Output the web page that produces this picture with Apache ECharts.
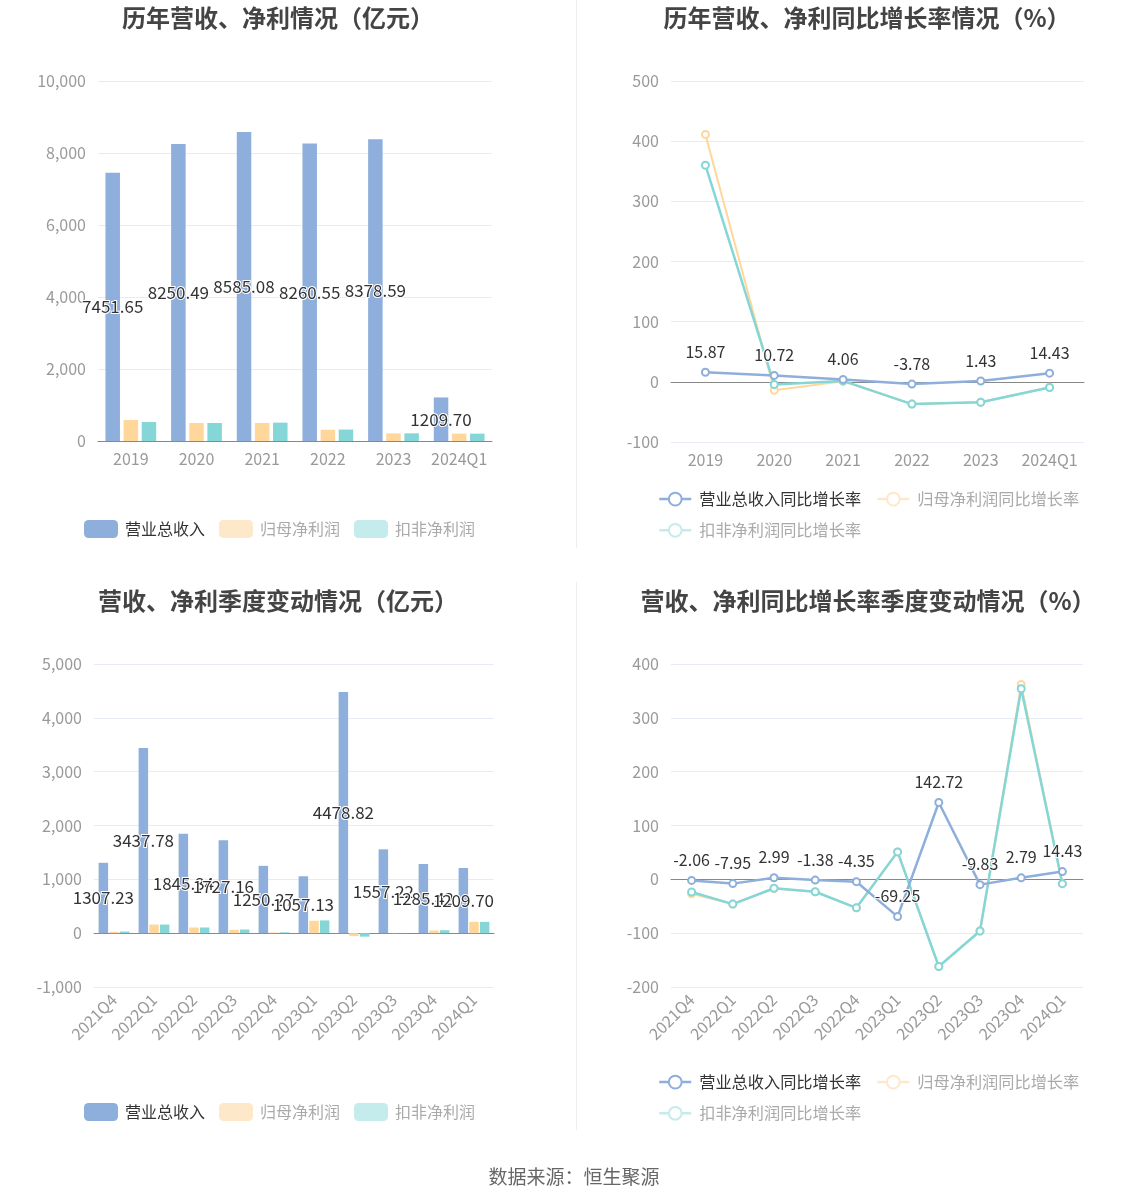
<!DOCTYPE html>
<html>
<head>
<meta charset="utf-8">
<script src="https://cdn.jsdelivr.net/npm/echarts@6/dist/echarts.min.js"></script>
<style>
html,body{margin:0;padding:0;background:#fff;}
#main{width:1148px;height:1202px;}
</style>
</head>
<body>
<div id="main"></div>
<script>
// ---- data ----
var years = ['2019', '2020', '2021', '2022', '2023', '2024Q1'];
var revAnnual = [7451.65, 8250.49, 8585.08, 8260.55, 8378.59, 1209.70];
var npAnnual = [582, 500, 500, 314, 213, 204];
var npDedAnnual = [527, 500, 510, 318, 213, 204];
var revGrowth = [15.87, 10.72, 4.06, -3.78, 1.43, 14.43];
var npGrowth = [411, -14, 1, -37, -34, -9];
var npDedGrowth = [360, -4.5, 1.5, -37, -34, -9.4];

var quarters = ['2021Q4', '2022Q1', '2022Q2', '2022Q3', '2022Q4', '2023Q1', '2023Q2', '2023Q3', '2023Q4', '2024Q1'];
var revQ = [1307.23, 3437.78, 1845.34, 1727.16, 1250.27, 1057.13, 4478.82, 1557.22, 1285.42, 1209.70];
var npQ = [25, 160, 105, 62, 12, 230, -55, 3, 50, 210];
var npDedQ = [30, 160, 105, 68, 15, 237, -65, 2, 55, 210];
var revGrowthQ = [-2.06, -7.95, 2.99, -1.38, -4.35, -69.25, 142.72, -9.83, 2.79, 14.43];
var npGrowthQ = [-27, -46, -17, -23, -53, 51, -162, -96, 362, -8];
var npDedGrowthQ = [-23.5, -46, -16.6, -23, -53, 51, -162, -96, 354, -8];

var barNames = ['营业总收入', '归母净利润', '扣非净利润'];
var lineNames = ['营业总收入同比增长率', '归母净利润同比增长率', '扣非净利润同比增长率'];
var titles = ['历年营收、净利情况（亿元）', '历年营收、净利同比增长率情况（%）', '营收、净利季度变动情况（亿元）', '营收、净利同比增长率季度变动情况（%）'];
var sourceText = '数据来源：恒生聚源';

// ---- styles ----
var FONT = '"Noto Sans CJK SC", "Noto Sans", sans-serif';
var C_BLUE = '#8eaedc', C_ORANGE = '#ffd79b', C_CYAN = '#85d6d6';
var C_ORANGE_PALE = '#fde9c9', C_CYAN_PALE = '#c4ecec';
var AXIS_LABEL = {color: '#999', fontSize: 16, fontFamily: FONT};
var SPLIT = {lineStyle: {color: '#e6ebf5'}};
var fmt = function (p) { return Number(p.value).toFixed(2); };
var labelStyle = {color: '#333', fontSize: 17, fontFamily: FONT, textBorderColor: '#fff', textBorderWidth: 2};

var grids = [
  {left: 98, width: 394, top: 81, height: 360},
  {left: 671, width: 413, top: 81, height: 361},
  {left: 94, width: 400, top: 664, height: 323},
  {left: 671, width: 412, top: 664, height: 323}
];

function titleAt(i, left, top) {
  return {text: titles[i], left: left, top: top, textAlign: 'center',
    textStyle: {fontSize: 24, fontWeight: 'bold', color: '#444', fontFamily: FONT}};
}

function barLegend(top) {
  return {top: top, left: 79, itemWidth: 34, itemHeight: 18, itemGap: 14,
    icon: 'roundRect', selectedMode: false,
    textStyle: {fontSize: 16, fontFamily: FONT, color: '#333', padding: [0, 0, 0, 2]},
    data: [
      {name: barNames[0], itemStyle: {color: C_BLUE}, textStyle: {color: '#333'}},
      {name: barNames[1], itemStyle: {color: C_ORANGE_PALE}, textStyle: {color: '#aaa'}},
      {name: barNames[2], itemStyle: {color: C_CYAN_PALE}, textStyle: {color: '#aaa'}}
    ]};
}
function lineLegend(top) {
  return {top: top, left: 653, width: 450, itemWidth: 32, itemHeight: 16, itemGap: 15,
    selectedMode: false,
    textStyle: {fontSize: 16.2, fontFamily: FONT, color: '#333', padding: [0, 0, 0, 3]},
    data: [
      {name: lineNames[0], itemStyle: {color: C_BLUE, borderColor: C_BLUE, borderWidth: 2}, lineStyle: {color: C_BLUE, width: 2.5}, textStyle: {color: '#333'}},
      {name: lineNames[1], itemStyle: {color: C_ORANGE_PALE, borderColor: C_ORANGE_PALE, borderWidth: 2}, lineStyle: {color: C_ORANGE_PALE, width: 2.5}, textStyle: {color: '#aaa'}},
      {name: lineNames[2], itemStyle: {color: C_CYAN_PALE, borderColor: C_CYAN_PALE, borderWidth: 2}, lineStyle: {color: C_CYAN_PALE, width: 2.5}, textStyle: {color: '#aaa'}}
    ]};
}

function xAxis(gi, data, rotate) {
  return {type: 'category', gridIndex: gi, data: data,
    axisLine: {onZero: true, lineStyle: {color: '#888'}},
    axisTick: {alignWithLabel: true, lineStyle: {color: '#888'}},
    axisLabel: Object.assign({rotate: rotate || 0, margin: 10, interval: 0}, AXIS_LABEL)};
}
function yAxis(gi, min, max, interval) {
  return {type: 'value', gridIndex: gi, min: min, max: max, interval: interval,
    axisLine: {show: false}, axisTick: {show: false},
    axisLabel: Object.assign({margin: 12}, AXIS_LABEL), splitLine: SPLIT};
}

function bars(gi, rev, np, npd, bw, gap) {
  return [
    {name: barNames[0], type: 'bar', xAxisIndex: gi, yAxisIndex: gi, data: rev, barWidth: bw, barGap: gap,
      itemStyle: {color: C_BLUE}, label: Object.assign({show: true, position: 'inside', formatter: fmt}, labelStyle), z: 2},
    {name: barNames[1], type: 'bar', xAxisIndex: gi, yAxisIndex: gi, data: np, barWidth: bw, barGap: gap, itemStyle: {color: C_ORANGE}},
    {name: barNames[2], type: 'bar', xAxisIndex: gi, yAxisIndex: gi, data: npd, barWidth: bw, barGap: gap, itemStyle: {color: C_CYAN}}
  ];
}
function lines(gi, a, b, c) {
  var base = {type: 'line', xAxisIndex: gi, yAxisIndex: gi, symbol: 'emptyCircle', symbolSize: 7};
  return [
    Object.assign({}, base, {name: lineNames[1], data: b, itemStyle: {color: C_ORANGE}, lineStyle: {width: 2, color: C_ORANGE}, z: 2}),
    Object.assign({}, base, {name: lineNames[2], data: c, itemStyle: {color: C_CYAN}, lineStyle: {width: 2.5, color: C_CYAN}, z: 3}),
    Object.assign({}, base, {name: lineNames[0], data: a, itemStyle: {color: C_BLUE}, lineStyle: {width: 2.5, color: C_BLUE}, z: 4,
      label: Object.assign({show: true, position: 'top', distance: 8, formatter: fmt}, labelStyle, {fontSize: 16})})
  ];
}

var chart = echarts.init(document.getElementById('main'), null, {renderer: 'canvas'});
var option = {
  backgroundColor: '#fff',
  animation: false,
  textStyle: {fontFamily: FONT},
  title: [
    titleAt(0, 273, 1), titleAt(1, 862, 1), titleAt(2, 273, 584), titleAt(3, 863, 584),
    {text: sourceText, left: 569, top: 1162, textAlign: 'center', textStyle: {fontSize: 19, fontWeight: 'normal', color: '#666', fontFamily: FONT}}
  ],
  legend: [barLegend(515), lineLegend(486), barLegend(1098), lineLegend(1069)],
  grid: grids,
  xAxis: [xAxis(0, years), xAxis(1, years), xAxis(2, quarters, 45), xAxis(3, quarters, 45)],
  yAxis: [yAxis(0, 0, 10000, 2000), yAxis(1, -100, 500, 100), yAxis(2, -1000, 5000, 1000), yAxis(3, -200, 400, 100)],
  graphic: [
    {type: 'line', shape: {x1: 576.5, y1: 0, x2: 576.5, y2: 548}, style: {stroke: '#eee', lineWidth: 1}},
    {type: 'line', shape: {x1: 576.5, y1: 582, x2: 576.5, y2: 1130}, style: {stroke: '#eee', lineWidth: 1}}
  ],
  series: [].concat(
    bars(0, revAnnual, npAnnual, npDedAnnual, 14.5, '25%'),
    lines(1, revGrowth, npGrowth, npDedGrowth),
    bars(2, revQ, npQ, npDedQ, 9.5, '12%'),
    lines(3, revGrowthQ, npGrowthQ, npDedGrowthQ)
  )
};
chart.setOption(option);
</script>
</body>
</html>
